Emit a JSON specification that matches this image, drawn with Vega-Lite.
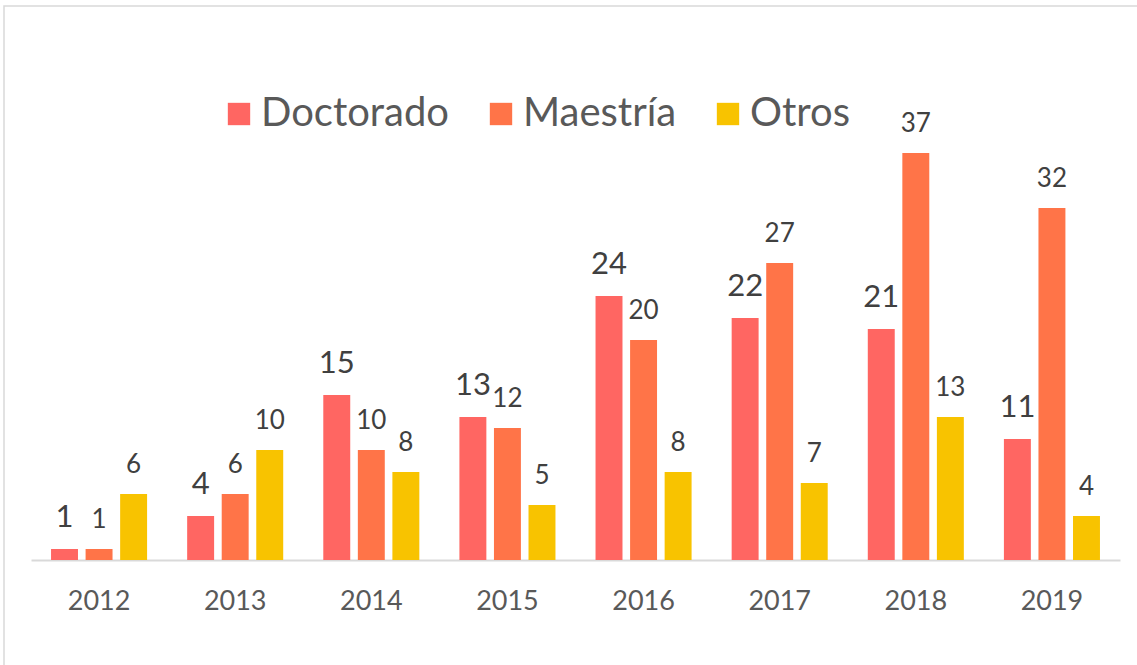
{
  "$schema": "https://vega.github.io/schema/vega-lite/v6.json",
  "width": 1140,
  "height": 670,
  "autosize": {"type": "none"},
  "padding": {"left": 4, "top": 6, "right": 0, "bottom": 0},
  "background": "white",
  "config": {
    "view": {"stroke": "#D9D9D9", "strokeWidth": 1.5},
    "font": "Lato",
    "legend": {"symbolSize": 500, "labelLimit": 0}
  },
  "data": {
    "values": [
      {"year": "2012", "serie": "Doctorado", "value": 1},
      {"year": "2012", "serie": "Maestría", "value": 1},
      {"year": "2012", "serie": "Otros", "value": 6},
      {"year": "2013", "serie": "Doctorado", "value": 4},
      {"year": "2013", "serie": "Maestría", "value": 6},
      {"year": "2013", "serie": "Otros", "value": 10},
      {"year": "2014", "serie": "Doctorado", "value": 15},
      {"year": "2014", "serie": "Maestría", "value": 10},
      {"year": "2014", "serie": "Otros", "value": 8},
      {"year": "2015", "serie": "Doctorado", "value": 13},
      {"year": "2015", "serie": "Maestría", "value": 12},
      {"year": "2015", "serie": "Otros", "value": 5},
      {"year": "2016", "serie": "Doctorado", "value": 24},
      {"year": "2016", "serie": "Maestría", "value": 20},
      {"year": "2016", "serie": "Otros", "value": 8},
      {"year": "2017", "serie": "Doctorado", "value": 22},
      {"year": "2017", "serie": "Maestría", "value": 27},
      {"year": "2017", "serie": "Otros", "value": 7},
      {"year": "2018", "serie": "Doctorado", "value": 21},
      {"year": "2018", "serie": "Maestría", "value": 37},
      {"year": "2018", "serie": "Otros", "value": 13},
      {"year": "2019", "serie": "Doctorado", "value": 11},
      {"year": "2019", "serie": "Maestría", "value": 32},
      {"year": "2019", "serie": "Otros", "value": 4}
    ]
  },
  "encoding": {
    "x": {
      "field": "year", "type": "nominal",
      "scale": {"range": [27, 1116], "paddingInner": 0, "paddingOuter": 0},
      "axis": {
        "title": null, "labelAngle": 0, "labelFontSize": 27, "labelColor": "#595959",
        "labelFont": "Lato", "ticks": false, "domain": true, "domainColor": "#D9D9D9",
        "domainWidth": 2, "labelPadding": 28, "offset": -116
      }
    },
    "xOffset": {
      "field": "serie", "type": "nominal",
      "scale": {"domain": ["Doctorado", "Maestría", "Otros"], "paddingInner": 0.22, "paddingOuter": 0.58}
    },
    "y": {
      "field": "value", "type": "quantitative",
      "scale": {"domain": [0, 40], "range": [554, 114], "nice": false, "zero": true},
      "axis": null
    }
  },
  "layer": [
    {
      "mark": {"type": "bar"},
      "encoding": {
        "color": {
          "field": "serie", "type": "nominal",
          "scale": {"domain": ["Doctorado", "Maestría", "Otros"], "range": ["#FF6662", "#FF7448", "#F8C300"]},
          "legend": {
            "title": null, "orient": "none", "direction": "horizontal",
            "legendX": 215, "legendY": 88,
            "symbolType": "square", "symbolSize": 500, "symbolStrokeWidth": 0,
            "labelFontSize": 40, "labelColor": "#595959", "labelFont": "Lato",
            "columnPadding": 31, "labelOffset": 2
          }
        }
      }
    },
    {
      "transform": [{"filter": "datum.serie === 'Doctorado'"}],
      "mark": {"type": "text", "baseline": "alphabetic", "dy": -22, "color": "#404040", "font": "Lato", "fontSize": 31},
      "encoding": {
        "text": {"field": "value", "type": "quantitative"}
      }
    },
    {
      "transform": [{"filter": "datum.serie !== 'Doctorado'"}],
      "mark": {"type": "text", "baseline": "alphabetic", "dy": -21, "color": "#404040", "font": "Lato", "fontSize": 26},
      "encoding": {
        "text": {"field": "value", "type": "quantitative"}
      }
    }
  ]
}
